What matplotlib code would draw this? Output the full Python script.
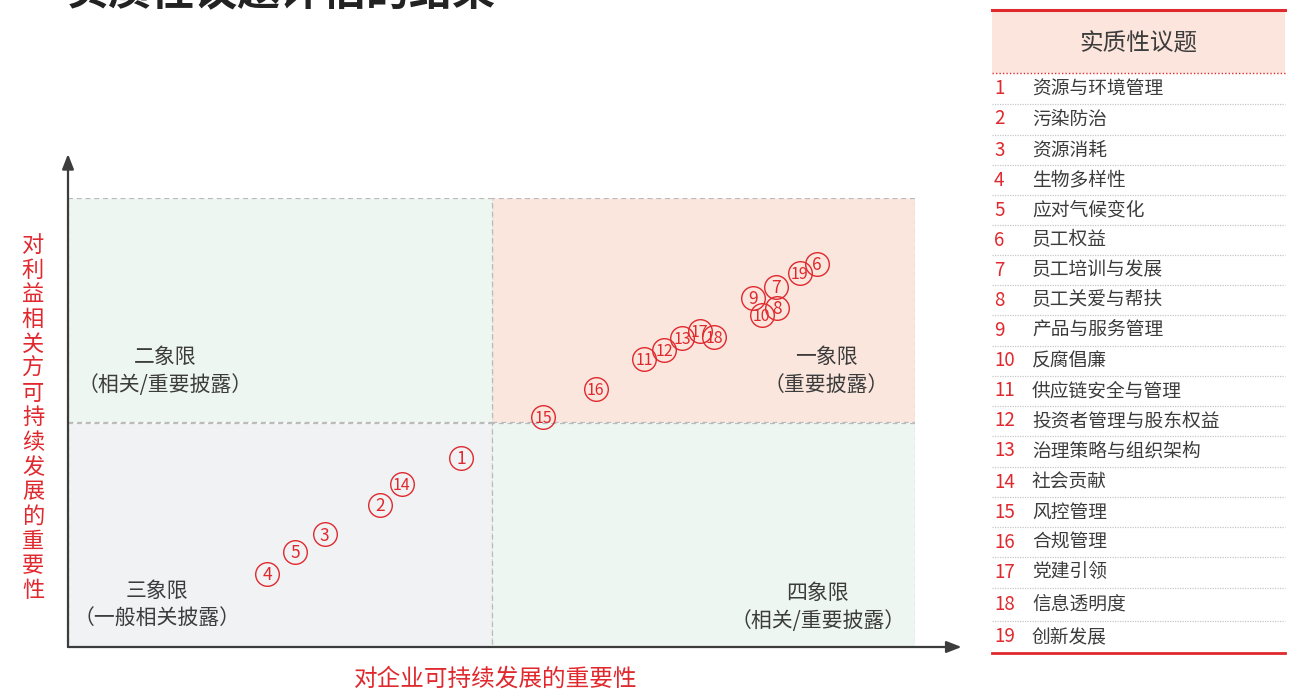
import matplotlib
matplotlib.use("Agg")
import matplotlib.pyplot as plt
from matplotlib.patches import Rectangle

plt.rcParams['font.family'] = ['Noto Sans CJK SC', 'DejaVu Sans']

# ---- data ----
issue_ids = list(range(1, 20))
issue_names = ["资源与环境管理", "污染防治", "资源消耗", "生物多样性", "应对气候变化",
               "员工权益", "员工培训与发展", "员工关爱与帮扶", "产品与服务管理", "反腐倡廉",
               "供应链安全与管理", "投资者管理与股东权益", "治理策略与组织架构", "社会贡献",
               "风控管理", "合规管理", "党建引领", "信息透明度", "创新发展"]
# importance to the enterprise (x) and to stakeholders (y), 0-10 scale
x_vals = [4.64, 3.68, 3.03, 2.35, 2.68, 8.84, 8.36, 8.37, 8.09, 8.19,
          6.80, 7.04, 7.25, 3.94, 5.61, 6.23, 7.46, 7.63, 8.64]
y_vals = [4.21, 3.16, 2.51, 1.63, 2.12, 8.53, 8.02, 7.55, 7.77, 7.39,
          6.41, 6.61, 6.88, 3.63, 5.12, 5.75, 7.04, 6.91, 8.33]
quadrant_titles = ["一象限", "二象限", "三象限", "四象限"]
quadrant_subs = ["（重要披露）", "（相关/重要披露）", "（一般相关披露）", "（相关/重要披露）"]
x_label = "对企业可持续发展的重要性"
y_label = "对利益相关方可持续发展的重要性"
title = "实质性议题评估的结果"
table_header = "实质性议题"

RED = "#e0292e"
DARK = "#3c3c3c"
W, H = 1302, 690

fig = plt.figure(figsize=(W / 100, H / 100), dpi=100)

# overlay axes in pixel coordinates
ov = fig.add_axes([0, 0, 1, 1])
ov.set_xlim(0, W)
ov.set_ylim(H, 0)
ov.axis('off')

# main chart axes
x0, x1, y0, y1 = 68, 915, 647, 198
ax = fig.add_axes([x0 / W, 1 - y0 / H, (x1 - x0) / W, (y0 - y1) / H])
ax.set_xlim(0, 10)
ax.set_ylim(0, 10)
ax.axis('off')

fills = {(5, 5): "#fae6dd", (0, 5): "#eef6f1", (0, 0): "#f1f2f4", (5, 0): "#eef6f1"}
for (qx, qy), c in fills.items():
    ax.add_patch(Rectangle((qx, qy), 5, 5, facecolor=c, edgecolor="#bbbbbb",
                           linestyle=(0, (4, 3)), linewidth=0.9, zorder=0))

# axes arrows
ax.annotate("", xy=(10.55, 0), xytext=(0, 0), annotation_clip=False,
            arrowprops=dict(arrowstyle="-|>,head_length=0.9,head_width=0.35", color=DARK, lw=1.6,
                            shrinkA=0, shrinkB=0))
ax.annotate("", xy=(0, 10.98), xytext=(0, 0), annotation_clip=False,
            arrowprops=dict(arrowstyle="-|>,head_length=0.9,head_width=0.35", color=DARK, lw=1.6,
                            shrinkA=0, shrinkB=0))

# points
for i, xv, yv in zip(issue_ids, x_vals, y_vals):
    ax.plot(xv, yv, 'o', ms=17, mfc='none', mec=RED, mew=1.0, zorder=3)
    ax.text(xv, yv - 0.03, str(i), color=RED, fontsize=12.5 if i < 10 else 11.5,
            ha='center', va='center', zorder=4)

# quadrant labels
qpos = [(8.95, 6.45), (1.15, 6.45), (1.05, 1.25), (8.85, 1.2)]
for (qx, qy), t, s in zip(qpos, quadrant_titles, quadrant_subs):
    ax.text(qx, qy, t, ha='center', va='center', fontsize=15, color=DARK)
    ax.text(qx, qy - 0.62, s, ha='center', va='center', fontsize=15, color=DARK)

# axis labels
ov.text(496, 679, x_label, ha='center', va='center', fontsize=17, color=RED)
ov.text(33, 418, "\n".join(y_label), ha='center', va='center', fontsize=16,
        color=RED, linespacing=1.09)

# title (clipped at top)
ov.text(65, 14, title, ha='left', va='bottom', fontsize=31, fontweight='bold', color="#222222")

# table
tx0, tx1 = 992, 1285
ov.add_patch(Rectangle((tx0, 10), tx1 - tx0, 63, facecolor="#fbe5dc", edgecolor='none'))
ov.plot([tx0, tx1], [10, 10], color=RED, lw=2.2)
ov.text((tx0 + tx1) / 2, 44, table_header, ha='center', va='center', fontsize=17, color=DARK)
ov.plot([tx0, tx1], [73, 73], color=RED, lw=1.0, linestyle=(0, (1, 1.5)))
row_y = [89, 119, 150, 180, 210, 240, 270, 300, 330, 361, 391, 421, 451, 482, 512, 542, 572, 604, 637]
for k, (i, name) in enumerate(zip(issue_ids, issue_names)):
    yy = row_y[k]
    ov.text(994, yy, str(i), ha='left', va='center', fontsize=13.5, color=RED)
    ov.text(1032, yy, name, ha='left', va='center', fontsize=13.5, color=DARK)
    if k < len(issue_ids) - 1:
        sep = (row_y[k] + row_y[k + 1]) / 2
        ov.plot([tx0, tx1], [sep, sep], color="#c8c8c8", lw=0.9, linestyle=(0, (1, 1)))
ov.plot([tx0, tx1], [653, 653], color=RED, lw=2.0)

fig.savefig("out.png", dpi=100)
